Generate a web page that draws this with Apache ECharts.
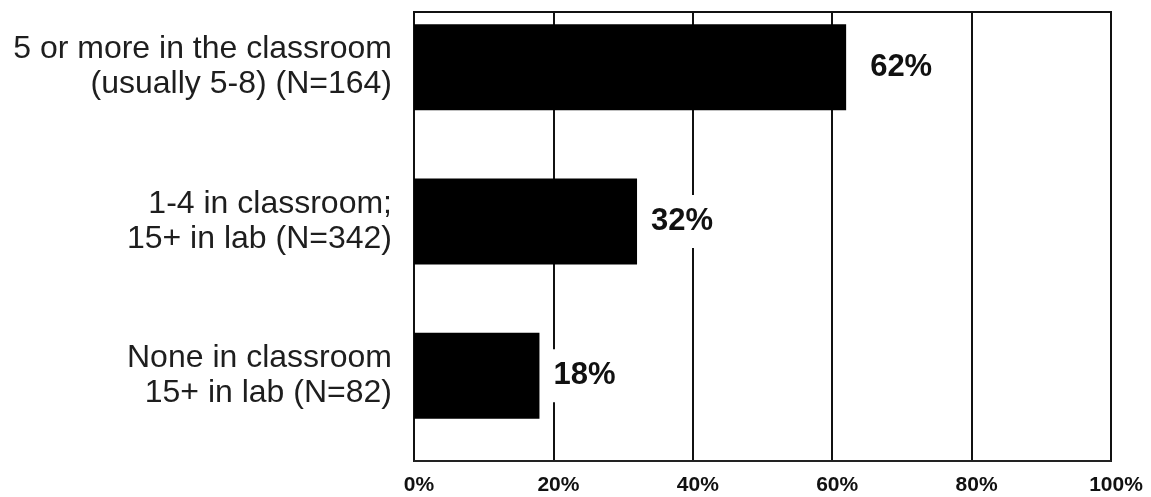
<!DOCTYPE html>
<html>
<head>
<meta charset="utf-8">
<script src="https://cdn.jsdelivr.net/npm/echarts@6/dist/echarts.min.js"></script>
<style>
html,body{margin:0;padding:0;background:#fff;}
#chart{width:1151px;height:497px;}
</style>
</head>
<body>
<div id="chart"></div>
<script>
var categories = [
  "5 or more in the classroom\n(usually 5-8) (N=164)",
  "1-4 in classroom;\n15+ in lab (N=342)",
  "None in classroom\n15+ in lab (N=82)"
];
var values = [62, 32, 18];
var xTicks = { min: 0, max: 100, interval: 20 };

var chart = echarts.init(document.getElementById('chart'), null, { renderer: 'canvas' });
var FONT = '"Liberation Sans", Arial, sans-serif';

// per-bar label gap (style only, kept apart from the data)
var labelGap = [16, 6, 6];
var seriesData = values.map(function (v, i) {
  return { value: v, label: { distance: labelGap[i] } };
});

chart.setOption({
  backgroundColor: '#ffffff',
  animation: false,
  grid: [
    { left: 414, right: 40, top: 12, bottom: 36, show: true, borderColor: '#111', borderWidth: 2,
      backgroundColor: 'transparent', outerBoundsMode: 'none', containLabel: false },
    { left: 414, right: 40, top: -10, bottom: 44, show: false, outerBoundsMode: 'none', containLabel: false }
  ],
  xAxis: [
    {
      gridIndex: 0, type: 'value', min: xTicks.min, max: xTicks.max, interval: xTicks.interval,
      axisLine: { show: true, lineStyle: { color: '#222', width: 2 } },
      axisTick: { show: false },
      splitLine: { show: true, lineStyle: { color: '#111', width: 2 } },
      axisLabel: {
        formatter: '{value}%', fontFamily: FONT, fontWeight: 'bold', fontSize: 21,
        color: '#111', margin: 14, padding: [0, 0, 0, 10]
      }
    },
    {
      gridIndex: 1, type: 'value', min: xTicks.min, max: xTicks.max, show: false,
      splitLine: { show: false }
    }
  ],
  yAxis: [
    { gridIndex: 0, type: 'value', show: false, splitLine: { show: false } },
    {
      gridIndex: 1, type: 'category', data: categories, inverse: true,
      axisLine: { show: false }, axisTick: { show: false },
      axisLabel: {
        fontFamily: FONT, fontSize: 32, color: '#1e1e1e', margin: 22,
        lineHeight: 35, align: 'right'
      }
    }
  ],
  series: [{
    type: 'bar', xAxisIndex: 1, yAxisIndex: 1, data: seriesData,
    barWidth: 86,
    itemStyle: { color: '#000' },
    label: {
      show: true, position: 'right', distance: 6,
      formatter: '{c}%', fontFamily: FONT, fontWeight: 'bold', fontSize: 31,
      color: '#111', backgroundColor: '#fff', padding: [11, 8]
    }
  }]
});
</script>
</body>
</html>
